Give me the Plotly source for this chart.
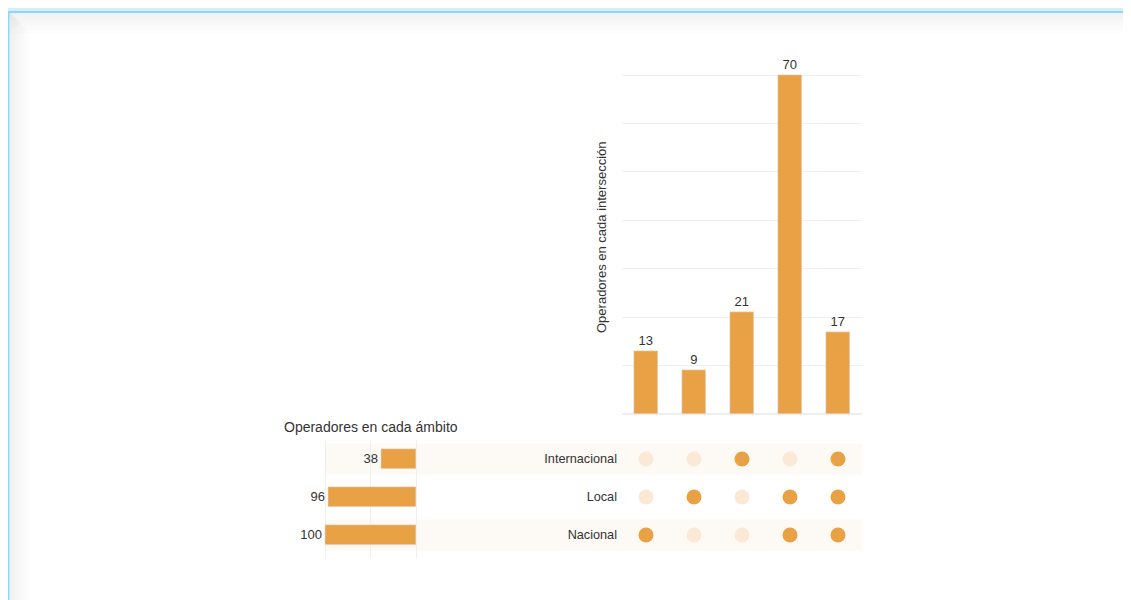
import plotly.graph_objects as go

# Data
sets = ["Internacional", "Local", "Nacional"]
set_sizes = [38, 96, 100]
intersections = ["Nacional", "Local", "Internacional", "Local & Nacional", "Todos"]
intersection_sizes = [13, 9, 21, 70, 17]
membership = [
    ["Nacional"],
    ["Local"],
    ["Internacional"],
    ["Local", "Nacional"],
    ["Internacional", "Local", "Nacional"],
]

# page has an 8px body margin, so the figure sits at (8, 8)
OFF = 8
W, H = 1131 - OFF, 600 - OFF
ORANGE = "#e8a145"
PALE = "#fbe9d5"
BAND = "#fdf9f4"
GRID = "#efefef"
TXT = "#333333"
FONT = "Liberation Sans, Arial, sans-serif"


def fx(p):
    # page pixel -> paper x
    return (p - OFF) / W


def fy(p):
    # page pixel -> paper y
    return 1 - (p - OFF) / H


fig = go.Figure()

# Intersection bars
fig.add_trace(go.Bar(
    x=intersections, y=intersection_sizes, xaxis="x", yaxis="y",
    marker_color=ORANGE, width=0.52,
    text=intersection_sizes, textposition="outside", cliponaxis=False,
    textfont=dict(size=13, color=TXT), hoverinfo="x+y",
))

# Matrix dots
dot_x, dot_y, dot_c = [], [], []
for name, members in zip(intersections, membership):
    for s in sets:
        dot_x.append(name)
        dot_y.append(s)
        dot_c.append(ORANGE if s in members else PALE)
fig.add_trace(go.Scatter(
    x=dot_x, y=dot_y, xaxis="x2", yaxis="y2", mode="markers",
    marker=dict(size=15, color=dot_c), hoverinfo="skip",
))

# Set size bars
fig.add_trace(go.Bar(
    x=set_sizes, y=sets, orientation="h", xaxis="x3", yaxis="y3",
    marker_color=ORANGE, width=0.54,
    text=set_sizes, textposition="outside", cliponaxis=False,
    textfont=dict(size=13, color=TXT), hoverinfo="x+y",
))

# Row bands across matrix and set-size panel
shapes = []
for i, s in enumerate(sets):
    if i % 2 == 0:
        shapes.append(dict(
            type="rect", xref="paper", yref="y2", layer="below",
            x0=fx(325), x1=fx(862), y0=i - 0.41, y1=i + 0.41,
            fillcolor=BAND, line_width=0,
        ))

# Page frame: blue strip, border line and soft shadow
shapes.append(dict(type="rect", xref="paper", yref="paper", x0=0, x1=1, y0=fy(11), y1=1,
                   fillcolor="#d5ecfa", line_width=0, layer="above"))
for k in range(10):
    a = 0.10 * (1 - k / 10)
    shapes.append(dict(type="rect", xref="paper", yref="paper",
                       x0=fx(9.5), x1=1, y0=fy(13 + 2 * (k + 1)), y1=fy(13 + 2 * k),
                       fillcolor=f"rgba(120,120,120,{a:.3f})", line_width=0, layer="above"))
    shapes.append(dict(type="rect", xref="paper", yref="paper",
                       x0=fx(9.5 + 2 * k), x1=fx(9.5 + 2 * (k + 1)), y0=0, y1=fy(13 + 2 * k),
                       fillcolor=f"rgba(120,120,120,{a:.3f})", line_width=0, layer="above"))
shapes += [
    dict(type="rect", xref="paper", yref="paper", x0=0, x1=1, y0=fy(13), y1=fy(11),
         fillcolor="#8ed8f6", line_width=0, layer="above"),
    dict(type="rect", xref="paper", yref="paper", x0=0, x1=fx(9.5), y0=0, y1=fy(11),
         fillcolor="#8ed8f6", line_width=0, layer="above"),
]

annotations = [
    dict(text="Operadores en cada ámbito", xref="paper", yref="paper",
         x=fx(282), y=fy(427), xanchor="left", yanchor="middle", showarrow=False,
         font=dict(size=14, color=TXT)),
    dict(text="Operadores en cada intersección", xref="paper", yref="paper",
         x=fx(601), y=fy(237), xanchor="center", yanchor="middle", showarrow=False,
         textangle=-90, font=dict(size=13, color=TXT)),
]

# small padding beyond the data range so edge gridlines get drawn
ypx = (414 - 75) / 70
xpx = (416 - 325) / 100

fig.update_layout(
    width=W, height=H,
    margin=dict(l=0, r=0, t=0, b=0),
    paper_bgcolor="white", plot_bgcolor="rgba(0,0,0,0)",
    font=dict(family=FONT, size=13, color=TXT),
    showlegend=False, bargap=0,
    shapes=shapes, annotations=annotations,
    xaxis=dict(domain=[fx(622), fx(862)], range=[-0.5, 4.5], showticklabels=False,
               showgrid=False, zeroline=False, anchor="y"),
    yaxis=dict(domain=[fy(414), fy(75 - 0.6 * ypx)], range=[0, 70.6], dtick=10,
               showticklabels=False, gridcolor=GRID, zeroline=True, zerolinecolor=GRID,
               anchor="x"),
    xaxis2=dict(domain=[fx(622), fx(862)], range=[-0.5, 4.5], showticklabels=False,
                showgrid=False, zeroline=False, anchor="y2",
                categoryorder="array", categoryarray=intersections),
    yaxis2=dict(domain=[fy(554), fy(440)], range=[2.5, -0.5], showgrid=False,
                zeroline=False, anchor="x2", categoryorder="array", categoryarray=sets,
                ticks="", ticklabelstandoff=4, tickfont=dict(size=12.7, color=TXT)),
    xaxis3=dict(domain=[fx(325 - 2 * xpx), fx(416 + 2 * xpx)], range=[102, -2],
                tickvals=[0, 50, 100], showticklabels=False, gridcolor=GRID,
                zeroline=False, anchor="y3"),
    yaxis3=dict(domain=[fy(558), fy(440)], range=[2.6, -0.5], showticklabels=False,
                showgrid=False, zeroline=False, anchor="x3",
                categoryorder="array", categoryarray=sets),
)

fig.write_html("out.html")
